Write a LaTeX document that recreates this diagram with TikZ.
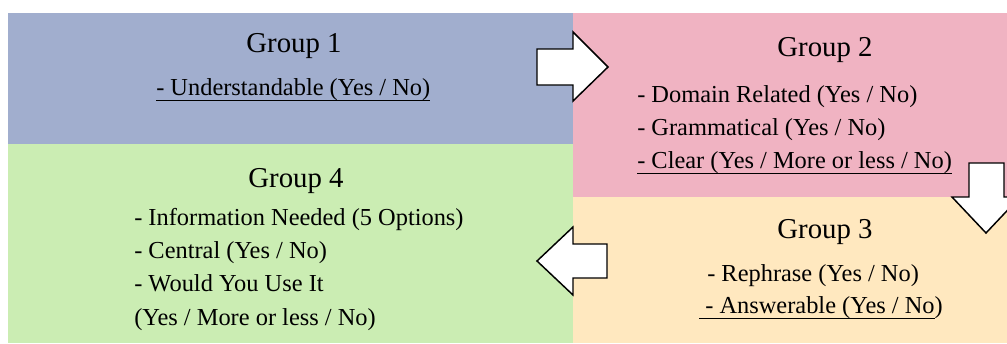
\documentclass[tikz,border=0pt]{standalone}
\usepackage{fontspec}
\setmainfont{Liberation Serif}
\definecolor{gblue}{RGB}{161,174,206}
\definecolor{gpink}{RGB}{240,179,194}
\definecolor{ggreen}{RGB}{203,237,179}
\definecolor{gyellow}{RGB}{255,232,191}
\newcommand\myul[1]{\setbox0\hbox{#1}\rlap{\vrule height -3.4pt depth 4.8pt width \wd0}\box0}
\begin{document}
\begin{tikzpicture}[x=0.75pt,y=-0.75pt,
  title/.style={font=\fontsize{21.6}{26}\selectfont, anchor=base, inner sep=0pt},
  item/.style={font=\fontsize{18.3}{22}\selectfont, anchor=base west, inner sep=0pt},
  blockarrow/.style={fill=white, draw=black, line width=1.1pt, miter limit=10}]
\useasboundingbox (0,0) rectangle (1007,343);
\clip (0,0) rectangle (1007,343);
% group boxes
\fill[gblue] (8,13) rectangle (573,144);
\fill[ggreen] (8,144) rectangle (573,343);
\fill[gpink] (573,13) rectangle (1007,197);
\fill[gyellow] (573,197) rectangle (1007,343);
% group 1
\node[title] (t1) at (294,52) {Group 1};
\node[item] (g1a) at (156,95) {\myul{- Understandable (Yes / No)}};
% group 2
\node[title] (t2) at (825,56) {Group 2};
\node[item] (g2a) at (637,102) {- Domain Related (Yes / No)};
\node[item] (g2b) at (637,135) {- Grammatical (Yes / No)};
\node[item] (g2c) at (637,168) {\myul{- Clear (Yes / More or less / No)}};
% group 3
\node[title] (t3) at (825,238) {Group 3};
\node[item] (g3a) at (707,281) {- Rephrase (Yes / No)};
\node[item] (g3b) at (699,313) {\myul{\ - Answerable (Yes / No})};
% group 4
\node[title] (t4) at (296,187) {Group 4};
\node[item] (g4a) at (134,225) {- Information Needed (5 Options)};
\node[item] (g4b) at (134,258) {- Central (Yes / No)};
\node[item] (g4c) at (134,291) {- Would You Use It};
\node[item] (g4d) at (134,325) {(Yes / More or less / No)};
% arrows
\draw[blockarrow] (537,49) -- (573,49) -- (573,32) -- (608,67) -- (573,101) -- (573,85) -- (537,85) -- cycle;
\draw[blockarrow] (969,163) -- (1004,163) -- (1004,197) -- (1020,197) -- (986,233) -- (952,197) -- (969,197) -- cycle;
\draw[blockarrow] (607,244) -- (573,244) -- (573,227) -- (537,261) -- (573,295) -- (573,278) -- (607,278) -- cycle;
\end{tikzpicture}
\end{document}
